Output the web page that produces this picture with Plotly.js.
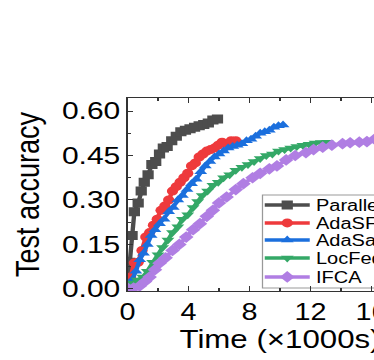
<!DOCTYPE html>
<html>
<head>
<meta charset="utf-8">
<script src="https://cdn.plot.ly/plotly-3.0.1.min.js"></script>
<style>
html,body{margin:0;padding:0;width:374px;height:360px;overflow:hidden;background:#fff;}
#wrap{width:374px;height:360px;overflow:hidden;position:relative;}
#chart{position:absolute;left:0;top:0;width:357px;height:360px;transform:scaleX(1.25);transform-origin:0 0;}
</style>
</head>
<body>
<div id="wrap"><div id="chart"></div></div>
<script>
// Series names
const seriesNames = ["ParallelSFL", "AdaSFL", "AdaSampling", "LocFedMix-SL", "IFCA"];

// Time (x1000 s) and test accuracy
const parallelT = [0, 0.15, 0.3, 0.45, 0.7, 0.9, 1.1, 1.35, 1.6, 1.85, 2.1, 2.35, 2.6, 2.9, 3.2, 3.5, 3.8, 4.1, 4.4, 4.7, 5.0, 5.3, 5.6, 5.9];
const parallelAcc = [0.005, 0.09, 0.18, 0.26, 0.29, 0.33, 0.36, 0.385, 0.42, 0.43, 0.455, 0.475, 0.48, 0.50, 0.515, 0.53, 0.535, 0.54, 0.545, 0.55, 0.555, 0.56, 0.57, 0.573];

const adasflT = [0, 0.2, 0.45, 0.7, 0.95, 1.2, 1.45, 1.7, 1.95, 2.2, 2.45, 2.7, 2.95, 3.2, 3.45, 3.7, 3.95, 4.2, 4.45, 4.7, 4.95, 5.2, 5.45, 5.7, 5.95, 6.2, 6.5, 6.8, 7.1];
const adasflAcc = [0.005, 0.04, 0.088, 0.09, 0.13, 0.175, 0.19, 0.215, 0.235, 0.265, 0.28, 0.30, 0.33, 0.345, 0.36, 0.375, 0.39, 0.415, 0.425, 0.445, 0.455, 0.465, 0.47, 0.475, 0.485, 0.495, 0.49, 0.50, 0.50];

const adasampT = [0, 0.3, 0.55, 0.8, 1.05, 1.3, 1.55, 1.8, 2.1, 2.4, 2.7, 3.0, 3.3, 3.6, 3.9, 4.2, 4.5, 4.8, 5.1, 5.4, 5.7, 6.0, 6.3, 6.6, 6.9, 7.2, 7.5, 7.8, 8.1, 8.4, 8.7, 9.0, 9.3, 9.6, 9.9, 10.2];
const adasampAcc = [0.005, 0.03, 0.06, 0.098, 0.12, 0.15, 0.18, 0.20, 0.22, 0.235, 0.26, 0.275, 0.30, 0.315, 0.335, 0.355, 0.37, 0.395, 0.415, 0.43, 0.445, 0.455, 0.465, 0.475, 0.48, 0.485, 0.49, 0.50, 0.505, 0.515, 0.525, 0.53, 0.535, 0.545, 0.55, 0.553];

const locfedT = [0, 0.3, 0.65, 1.0, 1.3, 1.65, 2.0, 2.3, 2.65, 2.95, 3.3, 3.6, 3.95, 4.3, 4.6, 4.9, 5.25, 5.6, 5.95, 6.3, 6.7, 7.1, 7.5, 7.9, 8.3, 8.7, 9.1, 9.5, 9.9, 10.3, 10.7, 11.1, 11.5, 11.9, 12.3, 12.7, 13.1];
const locfedAcc = [0.005, 0.02, 0.03, 0.04, 0.06, 0.09, 0.115, 0.14, 0.165, 0.19, 0.21, 0.235, 0.25, 0.275, 0.295, 0.315, 0.33, 0.35, 0.36, 0.375, 0.385, 0.40, 0.41, 0.42, 0.43, 0.44, 0.45, 0.455, 0.465, 0.47, 0.475, 0.48, 0.485, 0.488, 0.492, 0.494, 0.495];

const ifcaT = [0, 0.4, 0.8, 1.15, 1.45, 1.8, 2.1, 2.5, 2.95, 3.4, 3.85, 4.3, 4.75, 5.2, 5.6, 6.0, 6.5, 7.1, 7.6, 8.2, 8.7, 9.3, 9.8, 10.4, 11.0, 11.7, 12.2, 12.8, 13.4, 14.1, 14.6, 15.2, 15.7, 16.2, 16.8, 17.4];
const ifcaAcc = [0.003, 0.003, 0.01, 0.025, 0.04, 0.065, 0.087, 0.105, 0.13, 0.15, 0.175, 0.20, 0.22, 0.245, 0.265, 0.29, 0.31, 0.335, 0.355, 0.375, 0.39, 0.405, 0.415, 0.435, 0.45, 0.46, 0.47, 0.478, 0.485, 0.49, 0.493, 0.495, 0.497, 0.505, 0.51, 0.515];

const xTickVals = [0, 4, 8, 12, 16];
const xTickText = ["0", "4", "8", "12", "16"];
const yTickVals = [0, 0.15, 0.30, 0.45, 0.60];
const yTickText = ["0.00", "0.15", "0.30", "0.45", "0.60"];

const colors = ["#4d4d4d", "#ee3a3c", "#1b6fdd", "#34a867", "#b07ee3"];
const symbols = ["square", "circle", "triangle-up", "triangle-down", "diamond"];
const xs = [parallelT, adasflT, adasampT, locfedT, ifcaT];
const ys = [parallelAcc, adasflAcc, adasampAcc, locfedAcc, ifcaAcc];

const FONT = "Liberation Sans, Arial, Helvetica, sans-serif";
const legendIds = ["legend", "legend2", "legend3", "legend4", "legend5"];
const legendRowY = [0.4456, 0.3523, 0.2642, 0.1710, 0.0725];

const traces = seriesNames.map((n, i) => ({
  x: xs[i], y: ys[i], name: n, type: "scatter", mode: "lines+markers",
  line: {color: colors[i], width: 3.5},
  marker: {color: colors[i], symbol: symbols[i], size: 9},
  legend: legendIds[i],
  cliponaxis: true
}));

const layout = {
  width: 356.4, height: 360, autosize: false,
  margin: {l: 102.4, r: 10, t: 98, b: 69, pad: 0, autoexpand: false},
  paper_bgcolor: "#fff", plot_bgcolor: "#fff",
  font: {family: FONT, color: "#000"},
  showlegend: true,
  shapes: [{
    type: "rect", xref: "paper", yref: "paper", x0: 0.4426, x1: 1.02, y0: 0.0155, y1: 0.4974,
    line: {color: "#999", width: 1}, fillcolor: "rgba(0,0,0,0)", layer: "below"
  }],
  xaxis: {
    range: [0, 20], tickmode: "array", tickvals: xTickVals, ticktext: xTickText,
    ticks: "inside", ticklen: 5, tickcolor: "#333", tickwidth: 1,
    minor: {dtick: 2, tick0: 0, ticks: "inside", ticklen: 3, tickcolor: "#333"},
    showline: true, linecolor: "#333", linewidth: 1, mirror: "ticks",
    showgrid: false, zeroline: false, ticklabeloverflow: "allow",
    tickfont: {family: FONT, size: 23, color: "#000"},
    title: {text: "Time (×1000s)", font: {family: FONT, size: 25, color: "#000"}, standoff: 2},
    automargin: false
  },
  yaxis: {
    range: [-0.007, 0.644], tickmode: "array", tickvals: yTickVals, ticktext: yTickText,
    ticks: "inside", ticklen: 4, tickcolor: "#333", tickwidth: 1,
    minor: {dtick: 0.075, tick0: 0, ticks: "inside", ticklen: 2.5, tickcolor: "#333"},
    showline: true, linecolor: "#333", linewidth: 1, mirror: "ticks",
    showgrid: false, zeroline: false, ticklabeloverflow: "allow",
    tickfont: {family: FONT, size: 24, color: "#000"},
    title: {text: "Test accuracy", font: {family: FONT, size: 27, color: "#000"}, standoff: 9},
    automargin: false
  }
};

legendIds.forEach((id, i) => {
  layout[id] = {
    x: 0.4295, y: legendRowY[i], xanchor: "left", yanchor: "middle",
    bgcolor: "rgba(0,0,0,0)", borderwidth: 0,
    font: {family: FONT, size: 16, color: "#000"},
    itemwidth: 36
  };
});

Plotly.newPlot("chart", traces, layout, {displayModeBar: false, staticPlot: true});
</script>
</body>
</html>
